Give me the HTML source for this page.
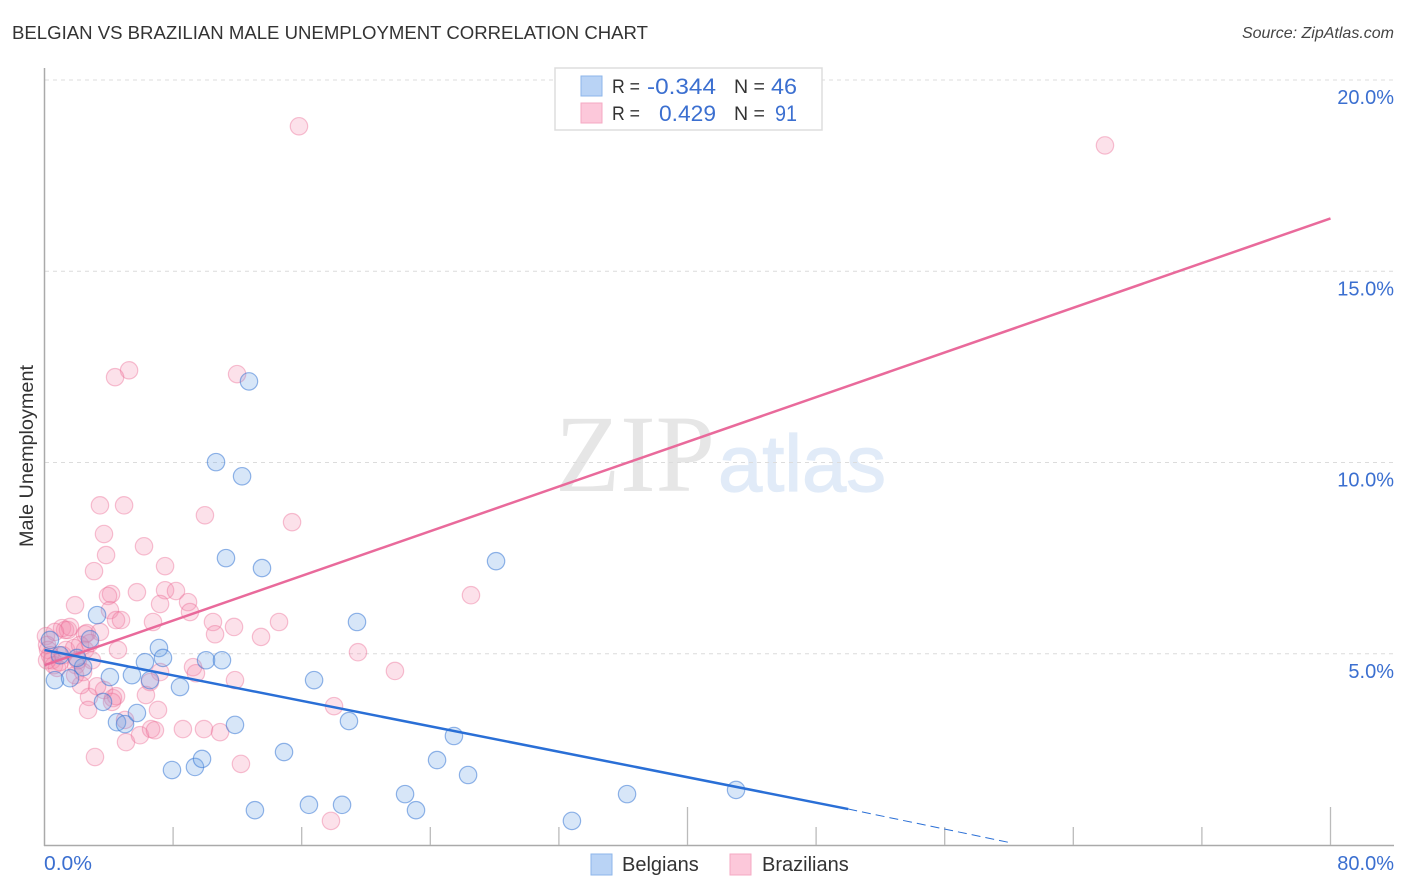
<!DOCTYPE html>
<html>
<head>
<meta charset="utf-8">
<title>Belgian vs Brazilian Male Unemployment Correlation Chart</title>
<style>
html,body{margin:0;padding:0;background:#fff;width:1406px;height:892px;overflow:hidden}
svg{display:block;font-family:"Liberation Sans",sans-serif}
</style>
</head>
<body>
<svg id="chart" width="1406" height="892" viewBox="0 0 1406 892" xmlns="http://www.w3.org/2000/svg">
  <text x="12" y="39" font-size="18" fill="#333" textLength="636" lengthAdjust="spacingAndGlyphs">BELGIAN VS BRAZILIAN MALE UNEMPLOYMENT CORRELATION CHART</text>
  <text x="1394" y="38" font-size="16" font-style="italic" fill="#444" text-anchor="end">Source: ZipAtlas.com</text>
  <text x="555" y="491" font-size="110" fill="#e6e6e6" style="font-family:'Liberation Serif',serif" textLength="160" lengthAdjust="spacingAndGlyphs">ZIP</text>
  <text x="718" y="491" font-size="80" fill="#e1ebf8" stroke="#e1ebf8" stroke-width="1.2" textLength="168" lengthAdjust="spacingAndGlyphs">atlas</text>
  <g id="grid"></g>
  <g id="axes"></g>
  <g id="pink-points"></g>
  <g id="blue-points"></g>
  <g id="trends"></g>
  <g id="tick-labels"></g>
  <text transform="translate(33,456) rotate(-90)" font-size="19" fill="#333" text-anchor="middle" textLength="182" lengthAdjust="spacingAndGlyphs">Male Unemployment</text>

  <g>
    <rect x="555" y="68" width="267" height="62" fill="#fff" stroke="#ddd" stroke-width="1.5"/>
    <rect x="581" y="76" width="21" height="20" fill="#b9d3f5" stroke="#8db6ea" stroke-width="1"/>
    <rect x="581" y="103" width="21" height="20" fill="#fcc8da" stroke="#f5a9c3" stroke-width="1"/>
    <g font-size="19" fill="#333">
      <text x="612" y="93" textLength="28" lengthAdjust="spacingAndGlyphs">R =</text>
      <text x="612" y="120" textLength="28" lengthAdjust="spacingAndGlyphs">R =</text>
      <text x="734" y="93" textLength="31" lengthAdjust="spacingAndGlyphs">N =</text>
      <text x="734" y="120" textLength="31" lengthAdjust="spacingAndGlyphs">N =</text>
    </g>
    <g font-size="22" fill="#3b6fd0">
      <text x="647" y="94" textLength="69" lengthAdjust="spacingAndGlyphs">-0.344</text>
      <text x="659" y="121" textLength="57" lengthAdjust="spacingAndGlyphs">0.429</text>
      <text x="771" y="94" textLength="26" lengthAdjust="spacingAndGlyphs">46</text>
      <text x="775" y="121" textLength="22" lengthAdjust="spacingAndGlyphs">91</text>
    </g>
  </g>

  <g>
    <rect x="591" y="854" width="21" height="21" fill="#b9d3f5" stroke="#8db6ea" stroke-width="1"/>
    <text x="622" y="871" font-size="20" fill="#333">Belgians</text>
    <rect x="730" y="854" width="21" height="21" fill="#fcc8da" stroke="#f5a9c3" stroke-width="1"/>
    <text x="762" y="871" font-size="20" fill="#333">Brazilians</text>
  </g>
</svg>
<script>
const yTickValues = [5, 10, 15, 20];
const yTickLabels = ["5.0%", "10.0%", "15.0%", "20.0%"];
const xTickValues = [8, 16, 24, 32, 40, 48, 56, 64, 72, 80];
const xMajorTicks = [40, 80];
const xEndLabels = ["0.0%", "80.0%"];

const belgianX = [0.34,0.65,1.59,3.27,2.40,2.83,4.07,5.44,6.25,7.12,7.37,6.56,8.43,10.05,11.04,11.85,3.64,4.51,5.01,5.75,7.93,9.36,9.80,14.90,13.09,16.45,18.51,22.43,23.11,32.81,36.24,43.02,26.35,24.42,25.47,18.94,16.77,19.44,28.09,13.53,11.29,12.29,10.67,12.72,2.02,0.96];
const belgianY = [5.36,4.31,4.36,6.01,4.65,5.38,4.39,4.44,4.78,5.15,4.89,4.31,4.13,4.83,4.83,3.14,3.74,3.21,3.16,3.45,1.96,2.04,2.25,2.43,0.91,1.05,1.05,1.33,0.91,0.63,1.33,1.44,1.83,2.22,2.85,3.24,4.31,5.83,7.42,7.24,7.50,9.64,10.01,12.12,4.89,4.96];

const brazilianX = [15.83,65.97,5.26,4.39,11.98,3.45,4.95,9.98,15.40,3.70,3.83,6.19,3.08,7.50,4.14,3.95,5.75,7.50,8.18,1.90,7.19,8.93,9.05,4.07,4.45,4.76,6.75,10.48,11.79,14.59,26.53,10.61,13.47,19.50,21.80,9.24,9.42,11.85,18.01,7.19,6.56,6.31,7.06,8.61,9.92,10.92,12.22,17.82,3.14,5.07,5.94,6.63,6.87,5.01,2.77,4.26,4.45,3.70,3.27,2.27,2.71,4.20,1.09,1.28,1.46,1.59,0.09,0.16,0.22,0.34,0.47,0.59,0.78,0.96,1.15,1.34,1.84,1.96,2.52,2.52,2.95,3.45,2.64,4.57,2.21,1.90,2.40,2.08,0.16,0.65,2.83];
const brazilianY = [18.79,18.29,12.41,12.23,12.31,8.88,8.88,8.62,8.44,8.13,7.58,7.81,7.16,7.29,6.56,6.51,6.61,6.66,6.64,6.27,6.30,6.35,6.09,6.14,5.88,5.88,5.83,5.83,5.70,5.83,6.53,5.51,5.44,5.04,4.55,4.65,4.49,4.31,3.63,4.52,4.26,3.92,3.53,3.03,3.03,2.95,2.12,0.63,2.30,2.69,2.87,3.03,3.00,3.27,3.87,3.84,3.89,4.05,4.15,4.18,3.53,3.74,5.67,5.62,5.62,5.70,5.46,5.23,5.10,4.96,4.83,4.70,4.63,4.78,4.96,5.10,5.15,4.70,5.51,5.10,4.83,5.57,5.54,5.10,5.23,4.44,4.52,4.83,4.83,5.57,5.28];

const belgianTrendX = [0, 50];
const belgianTrendY = [5.1, 0.94];
const belgianDashX = [50, 60.2];
const belgianDashY = [0.94, 0.05];
const brazilianTrendX = [0, 80];
const brazilianTrendY = [4.7, 16.38];

const NS = "http://www.w3.org/2000/svg";
const sx = v => 44.5 + v * (1330.5 - 44.5) / 80;
const sy = v => 845 - v * (845 - 80) / 20;

function make(tag, attrs, parent) {
  const el = document.createElementNS(NS, tag);
  for (const k in attrs) el.setAttribute(k, attrs[k]);
  document.getElementById(parent).appendChild(el);
  return el;
}

yTickValues.forEach(function (v, i) {
  const g = make("line", {x1: 45, x2: 1394, y1: sy(v), y2: sy(v), stroke: "#dcdcdc", "stroke-width": 1, "stroke-dasharray": "4 4"}, "grid");
  
  
  const t = make("text", {x: 1394, y: sy(v) + 24, "font-size": 20, fill: "#3b6fd0", "text-anchor": "end"}, "tick-labels");
  t.textContent = yTickLabels[i];
  
  
});

const yAxis = make("line", {x1: 44.5, x2: 44.5, y1: 68, y2: 846, stroke: "#aaa", "stroke-width": 1.5}, "axes");


const xAxis = make("line", {x1: 44, x2: 1394, y1: 845.5, y2: 845.5, stroke: "#aaa", "stroke-width": 1.5}, "axes");



xTickValues.forEach(function (v) {
  const top = xMajorTicks.indexOf(v) >= 0 ? 807 : 827;
  const tk = make("line", {x1: sx(v), x2: sx(v), y1: top, y2: 845, stroke: "#bbb", "stroke-width": 1.3}, "axes");
  
  
});

const xLeft = make("text", {x: 44, y: 870, "font-size": 20, fill: "#3b6fd0", textLength: 48, lengthAdjust: "spacingAndGlyphs"}, "tick-labels");
xLeft.textContent = xEndLabels[0];


const xRight = make("text", {x: 1394, y: 870, "font-size": 20, fill: "#3b6fd0", "text-anchor": "end"}, "tick-labels");
xRight.textContent = xEndLabels[1];



brazilianX.forEach(function (v, i) {
  const c = make("circle", {cx: sx(v), cy: sy(brazilianY[i]), r: 8.7, fill: "rgba(245,140,175,0.26)", stroke: "rgba(236,110,150,0.42)", "stroke-width": 1.2}, "pink-points");
  
  
});
belgianX.forEach(function (v, i) {
  const c = make("circle", {cx: sx(v), cy: sy(belgianY[i]), r: 8.7, fill: "rgba(110,165,230,0.28)", stroke: "rgba(50,115,210,0.52)", "stroke-width": 1.2}, "blue-points");
  
  
});

const pinkTrend = make("line", {x1: sx(brazilianTrendX[0]), y1: sy(brazilianTrendY[0]), x2: sx(brazilianTrendX[1]), y2: sy(brazilianTrendY[1]), stroke: "#e96a9b", "stroke-width": 2.5}, "trends");


const blueTrend = make("line", {x1: sx(belgianTrendX[0]), y1: sy(belgianTrendY[0]), x2: sx(belgianTrendX[1]), y2: sy(belgianTrendY[1]), stroke: "#2a6fd6", "stroke-width": 2.5}, "trends");


const blueDash = make("line", {x1: sx(belgianDashX[0]), y1: sy(belgianDashY[0]), x2: sx(belgianDashX[1]), y2: sy(belgianDashY[1]), stroke: "#2a6fd6", "stroke-width": 1, "stroke-dasharray": "9 5"}, "trends");


</script>
</body>
</html>
